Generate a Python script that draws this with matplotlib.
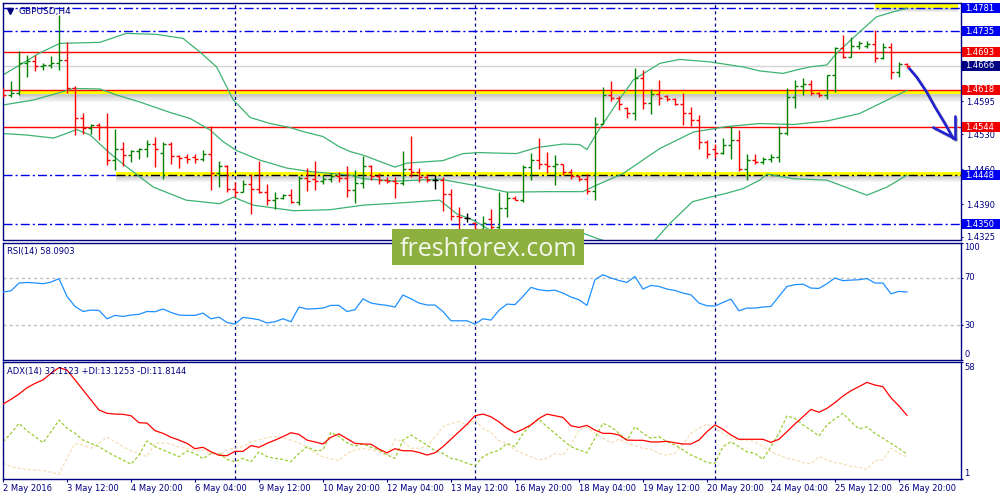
import matplotlib
matplotlib.use('Agg')
import matplotlib.pyplot as plt
import matplotlib.transforms as mtransforms
from matplotlib.patches import Rectangle
import numpy as np

plt.rcParams['font.family'] = ['DejaVu Sans']
plt.rcParams['lines.scale_dashes'] = False

# ---------------- DATA ----------------
bar_open = [1.4618, 1.4608, 1.4612, 1.4672, 1.4676, 1.4665, 1.4668, 1.4672, 1.4677, 1.4621,
            1.4563, 1.4542, 1.4549, 1.4545, 1.4479, 1.4500, 1.4488, 1.4496, 1.4500, 1.4510,
            1.4493, 1.4510, 1.4487, 1.4484, 1.4484, 1.4481, 1.4490, 1.4452, 1.4466, 1.4421,
            1.4415, 1.4430, 1.4420, 1.4414, 1.4398, 1.4403, 1.4408, 1.4395, 1.4443, 1.4440,
            1.4436, 1.4441, 1.4446, 1.4442, 1.4418, 1.4432, 1.4466, 1.4446, 1.4439, 1.4436,
            1.4433, 1.4461, 1.4455, 1.4445, 1.4439, 1.4439, 1.4411, 1.4367, 1.4362, 1.4352,
            1.4340, 1.4360, 1.4345, 1.4383, 1.4403, 1.4399, 1.4465, 1.4478, 1.4471, 1.4466,
            1.4470, 1.4455, 1.4446, 1.4440, 1.4417, 1.4551, 1.4608, 1.4601, 1.4582, 1.4572,
            1.4641, 1.4592, 1.4609, 1.4605, 1.4600, 1.4590, 1.4572, 1.4559, 1.4514, 1.4500,
            1.4493, 1.4508, 1.4518, 1.4461, 1.4479, 1.4475, 1.4480, 1.4485, 1.4532, 1.4604,
            1.4625, 1.4630, 1.4611, 1.4608, 1.4647, 1.4701, 1.4684, 1.4705, 1.4705, 1.4710,
            1.4681, 1.4704, 1.4654, 1.4669]
bar_high = [1.4621, 1.4636, 1.4696, 1.4688, 1.4688, 1.4672, 1.4686, 1.4768, 1.4714, 1.4626,
            1.4572, 1.4550, 1.4552, 1.4572, 1.4540, 1.4515, 1.4498, 1.4502, 1.4519, 1.4525,
            1.4515, 1.4515, 1.4489, 1.4491, 1.4491, 1.4498, 1.4546, 1.4476, 1.4468, 1.4434,
            1.4438, 1.4451, 1.4477, 1.4431, 1.4414, 1.4411, 1.4421, 1.4446, 1.4462, 1.4476,
            1.4448, 1.4452, 1.4454, 1.4466, 1.4458, 1.4486, 1.4469, 1.4452, 1.4444, 1.4444,
            1.4496, 1.4527, 1.4463, 1.4451, 1.4448, 1.4444, 1.4421, 1.4385, 1.4372, 1.4354,
            1.4366, 1.4380, 1.4415, 1.4414, 1.4406, 1.4468, 1.4492, 1.4522, 1.4494, 1.4489,
            1.4471, 1.4461, 1.4448, 1.4451, 1.4564, 1.4623, 1.4636, 1.4606, 1.4584, 1.4661,
            1.4658, 1.4619, 1.4638, 1.4608, 1.4601, 1.4611, 1.4584, 1.4569, 1.4519, 1.4511,
            1.4523, 1.4546, 1.4539, 1.4490, 1.4490, 1.4485, 1.4490, 1.4546, 1.4621, 1.4638,
            1.4641, 1.4638, 1.4614, 1.4648, 1.4704, 1.4728, 1.4723, 1.4715, 1.4716, 1.4737,
            1.4712, 1.4711, 1.4674, 1.4671]
bar_low = [1.4603, 1.4604, 1.4608, 1.4643, 1.4656, 1.4658, 1.4661, 1.4658, 1.4611, 1.4529,
           1.4531, 1.4530, 1.4518, 1.4469, 1.4458, 1.4466, 1.4474, 1.4480, 1.4484, 1.4464,
           1.4441, 1.4470, 1.4463, 1.4472, 1.4472, 1.4476, 1.4419, 1.4424, 1.4414, 1.4404,
           1.4414, 1.4371, 1.4412, 1.4389, 1.4381, 1.4400, 1.4393, 1.4388, 1.4416, 1.4419,
           1.4430, 1.4435, 1.4434, 1.4404, 1.4392, 1.4423, 1.4438, 1.4431, 1.4433, 1.4403,
           1.4428, 1.4444, 1.4435, 1.4434, 1.4421, 1.4376, 1.4358, 1.4338, 1.4354, 1.4334,
           1.4338, 1.4334, 1.4334, 1.4365, 1.4398, 1.4394, 1.4438, 1.4461, 1.4452, 1.4428,
           1.4448, 1.4441, 1.4436, 1.4410, 1.4399, 1.4550, 1.4596, 1.4578, 1.4563, 1.4559,
           1.4581, 1.4571, 1.4588, 1.4596, 1.4588, 1.4548, 1.4546, 1.4501, 1.4483, 1.4483,
           1.4490, 1.4480, 1.4457, 1.4438, 1.4471, 1.4470, 1.4474, 1.4474, 1.4528, 1.4582,
           1.4608, 1.4608, 1.4604, 1.4599, 1.4614, 1.4681, 1.4684, 1.4700, 1.4701, 1.4674,
           1.4680, 1.4640, 1.4644, 1.4661]
bar_close = [1.4608, 1.4612, 1.4672, 1.4676, 1.4665, 1.4668, 1.4672, 1.4677, 1.4621, 1.4563,
             1.4542, 1.4549, 1.4545, 1.4479, 1.4500, 1.4488, 1.4496, 1.4500, 1.4510, 1.4500,
             1.4510, 1.4487, 1.4483, 1.4481, 1.4481, 1.4490, 1.4452, 1.4466, 1.4421, 1.4415,
             1.4430, 1.4420, 1.4414, 1.4398, 1.4403, 1.4408, 1.4395, 1.4443, 1.4436, 1.4436,
             1.4441, 1.4446, 1.4442, 1.4418, 1.4432, 1.4466, 1.4446, 1.4439, 1.4436, 1.4433,
             1.4461, 1.4455, 1.4445, 1.4439, 1.4439, 1.4411, 1.4366, 1.4365, 1.4362, 1.4340,
             1.4353, 1.4345, 1.4383, 1.4403, 1.4399, 1.4465, 1.4478, 1.4471, 1.4466, 1.4470,
             1.4455, 1.4446, 1.4440, 1.4417, 1.4551, 1.4608, 1.4601, 1.4590, 1.4572, 1.4641,
             1.4592, 1.4609, 1.4602, 1.4600, 1.4590, 1.4572, 1.4559, 1.4514, 1.4491, 1.4493,
             1.4508, 1.4518, 1.4461, 1.4479, 1.4475, 1.4480, 1.4485, 1.4532, 1.4604, 1.4625,
             1.4630, 1.4611, 1.4608, 1.4647, 1.4701, 1.4684, 1.4705, 1.4711, 1.4710, 1.4681,
             1.4704, 1.4654, 1.4669, 1.4666]

bb_upper_x = [0, 2.1, 4.6, 7.1, 12.1, 15.4, 19.2, 22.5, 24.6, 26.7, 28.8, 30.9, 33.4, 35.9,
              37.5, 40.0, 42.0, 43.4, 45, 49, 50.5, 55, 57.5, 59.6, 61.7, 64.2, 66.7, 70, 72.1,
              73, 74.2, 76.7, 78.8, 82.1, 84.6, 88.4, 92.5, 94.6, 97.5, 99.2, 100.9, 103, 104.2,
              107.1, 109.2, 111.3, 113]
bb_upper_y = [1.4648, 1.4668, 1.4692, 1.4711, 1.4713, 1.4731, 1.4729, 1.4721, 1.4694, 1.4664,
              1.4598, 1.4563, 1.4551, 1.4543, 1.4535, 1.4525, 1.4505, 1.4495, 1.4488, 1.4464,
              1.4472, 1.4477, 1.4491, 1.4493, 1.4492, 1.4491, 1.4503, 1.4510, 1.4509, 1.4499,
              1.4531, 1.4591, 1.4638, 1.4671, 1.4679, 1.4674, 1.4664, 1.4656, 1.4651, 1.4658,
              1.4664, 1.4668, 1.4691, 1.4734, 1.4764, 1.4774, 1.4781]
bb_mid_x = [0, 3.8, 6.7, 8.8, 12.1, 14.2, 17.1, 20.9, 23.4, 25.9, 27.5, 29.2, 32.1, 35.5, 38.4,
            43.4, 45, 49.2, 54.6, 58.8, 63, 68, 72.5, 74.2, 77.5, 82.1, 86.3, 90.5, 94.6, 98.8,
            103, 107.1, 111.3, 113]
bb_mid_y = [1.4588, 1.4598, 1.4611, 1.4621, 1.4620, 1.4608, 1.4594, 1.4573, 1.4561, 1.4538,
            1.4515, 1.4497, 1.4478, 1.4462, 1.4455, 1.4448, 1.4441, 1.4436, 1.4440, 1.4428,
            1.4414, 1.4415, 1.4415, 1.4428, 1.4451, 1.4501, 1.4534, 1.4545, 1.4551, 1.4549,
            1.4556, 1.4571, 1.4604, 1.4617]
bb_lower_x = [0, 3, 6.3, 7.9, 9.2, 10.9, 13.4, 15.5, 18.8, 22.9, 27.1, 28.8, 31.3, 36.3, 40.9,
              45, 49.2, 54.6, 56.7, 58.8, 60.9, 63, 67, 71, 72.5, 74.2, 77.5, 80.5, 81.5, 83.4,
              86.2, 88.4, 90.5, 92.5, 94.6, 95.5, 98.8, 103, 108, 110.5, 113]
bb_lower_y = [1.4531, 1.4528, 1.4522, 1.4531, 1.4539, 1.4528, 1.4491, 1.4464, 1.4424, 1.4398,
              1.4391, 1.4404, 1.4388, 1.4377, 1.4379, 1.4388, 1.4392, 1.4398, 1.4371, 1.4358,
              1.4338, 1.4310, 1.4300, 1.4322, 1.4332, 1.4322, 1.4305, 1.4310, 1.4318, 1.4352,
              1.4395, 1.4404, 1.4412, 1.4421, 1.4438, 1.4450, 1.4441, 1.4438, 1.4408, 1.4424, 1.4448]

rsi = [58.0, 59.1, 65.7, 66.2, 65.8, 65.1, 66.5, 69.4, 54.3, 45.8, 41.5, 42.7, 42.4, 35.3, 38.2,
       37.3, 38.5, 39.1, 41.5, 41.3, 43.6, 40.7, 38.5, 38.2, 38.2, 40.1, 35.3, 36.7, 32.2, 30.8,
       36.5, 35.6, 34.5, 31.7, 32.8, 35.3, 32.8, 45.3, 43.6, 43.9, 44.4, 46.7, 46.7, 41.5, 43.0,
       52.3, 48.7, 47.5, 46.7, 45.3, 55.5, 52.3, 48.7, 47.0, 47.0, 41.5, 33.6, 33.6, 33.6, 30.8,
       35.3, 34.2, 42.5, 47.8, 47.3, 54.3, 62.0, 60.0, 59.1, 59.6, 57.2, 53.8, 51.5, 46.7, 68.5,
       72.8, 70.0, 67.9, 66.2, 71.3, 60.6, 63.7, 62.8, 60.6, 59.4, 57.2, 55.7, 48.7, 46.4, 46.1,
       49.2, 52.1, 42.1, 44.4, 44.4, 45.3, 45.8, 54.3, 62.8, 64.3, 64.8, 61.4, 61.1, 65.1, 70.0,
       67.7, 68.2, 68.5, 69.6, 65.7, 65.7, 56.6, 58.6, 58.09]

adx = [37.6, 39.9, 42.5, 45.6, 47.7, 49.4, 52.6, 55.4, 54.2, 49.4, 44.5, 39.6, 34.7, 33.1, 32.7,
       32.6, 31.9, 28.5, 28.3, 24.6, 23.3, 21.4, 20.0, 18.4, 15.8, 16.5, 14.3, 12.6, 12.4, 14.5,
       14.5, 17.3, 16.5, 18.4, 20.0, 21.7, 23.6, 22.8, 20.0, 19.1, 18.1, 21.4, 23.0, 20.7, 18.4,
       18.1, 18.0, 15.6, 13.8, 15.8, 14.8, 14.8, 14.0, 12.7, 13.8, 16.8, 20.4, 24.1, 27.7, 31.9,
       32.7, 31.4, 28.9, 25.8, 23.6, 25.3, 27.4, 30.6, 32.7, 31.9, 31.1, 27.0, 26.2, 27.2, 24.9,
       23.3, 23.3, 22.5, 20.0, 19.9, 19.9, 19.1, 19.1, 19.4, 18.7, 18.1, 18.1, 20.0, 24.1, 27.4,
       25.3, 22.5, 20.4, 20.4, 20.4, 20.4, 18.9, 20.4, 24.1, 27.9, 31.4, 35.0, 33.6, 35.5, 38.3,
       41.5, 44.1, 46.1, 48.2, 46.9, 46.1, 40.7, 36.7, 32.11]
plus_di = [19.2, 23.3, 28.2, 24.6, 21.7, 18.7, 24.1, 29.8, 25.8, 23.3, 20.0, 18.4, 16.8, 14.3, 12.2,
           10.3, 8.2, 12.7, 19.6, 16.8, 15.2, 13.5, 11.9, 14.7, 13.5, 10.9, 13.5, 13.5, 10.6, 9.4,
           11.1, 9.4, 14.3, 11.9, 11.1, 10.6, 9.4, 13.5, 16.8, 14.8, 15.2, 23.8, 21.7, 18.7, 17.1,
           18.1, 16.5, 15.2, 12.7, 11.1, 20.0, 22.5, 20.0, 17.6, 14.8, 13.5, 11.1, 10.3, 8.7, 7.5,
           11.9, 13.8, 15.0, 18.4, 16.8, 23.3, 27.4, 30.3, 26.5, 23.3, 20.0, 16.8, 15.2, 13.8, 20.9,
           28.2, 26.5, 23.3, 20.0, 26.5, 23.3, 20.9, 21.7, 19.2, 17.6, 15.2, 12.7, 11.1, 9.0, 8.7,
           16.8, 19.2, 16.8, 14.3, 13.5, 10.6, 16.8, 23.3, 31.8, 30.6, 27.4, 24.9, 22.0, 27.4, 30.3,
           33.1, 29.0, 25.5, 26.5, 23.3, 20.9, 18.4, 16.0, 13.13]
minus_di = [8.7, 7.0, 6.2, 5.7, 5.4, 5.1, 4.3, 3.3, 11.1, 18.4, 17.6, 16.0, 18.4, 21.4, 19.2,
            16.8, 14.8, 13.5, 11.9, 18.4, 18.7, 18.1, 16.5, 16.0, 14.8, 15.2, 13.5, 12.7, 15.2, 16.0,
            16.8, 19.2, 20.0, 21.2, 21.7, 21.2, 20.0, 18.7, 16.5, 13.5, 11.9, 10.8, 10.0, 13.5, 15.2,
            16.0, 15.2, 14.3, 12.7, 20.4, 19.2, 16.0, 16.0, 16.8, 21.7, 26.5, 28.2, 29.0, 27.4, 29.8,
            25.5, 23.9, 19.6, 18.4, 15.2, 13.5, 11.9, 10.3, 11.1, 13.5, 12.7, 17.6, 24.9, 26.2, 23.3,
            20.9, 18.7, 20.4, 18.4, 17.3, 16.0, 15.6, 13.5, 12.7, 13.5, 18.1, 23.3, 25.8, 27.9, 25.8,
            23.3, 20.9, 20.0, 20.0, 19.2, 16.8, 14.3, 12.7, 11.1, 10.3, 9.0, 8.4, 11.9, 10.3, 9.0,
            8.4, 7.1, 6.8, 5.7, 10.0, 10.3, 16.0, 13.5, 11.81]

x_tick_labels = ["2 May 2016", "3 May 12:00", "4 May 20:00", "6 May 04:00", "9 May 12:00",
                 "10 May 20:00", "12 May 04:00", "13 May 12:00", "16 May 20:00", "18 May 04:00",
                 "19 May 12:00", "20 May 20:00", "24 May 04:00", "25 May 12:00", "26 May 20:00"]
x_tick_index = [0, 8, 16, 24, 32, 40, 48, 56, 64, 72, 80, 88, 96, 104, 112]
week_separators = [29, 59, 89]

red_levels = [1.4693, 1.4618, 1.4544]
blue_levels = [1.4781, 1.4735, 1.4350]
support_level = 1.4448
last_price = 1.4666
price_ticks = [1.4595, 1.4530, 1.4460, 1.4390, 1.4325]
boxed_labels = [(1.4781, 'blue'), (1.4735, 'blue'), (1.4693, 'red'), (1.4666, 'navy'),
                (1.4618, 'red'), (1.4544, 'red'), (1.4448, 'blue'), (1.4350, 'blue')]

# ---------------- STYLE ----------------
NAVY = '#000080'
BLUE = '#0000F0'
RED = '#FF0000'
UP = '#008000'
BBC = '#3CB371'
YEL = '#FFFF00'
box_colors = {'blue': '#0000F0', 'red': '#F00000', 'navy': '#000080'}
DASHDOT = (0, (6.5, 2.2, 1.5, 2.2))

W, H = 1000, 500
fig = plt.figure(figsize=(10, 5), dpi=100)
fig.patch.set_facecolor('white')

def frac(l, t, r, b):
    return [l / W, 1 - b / H, (r - l) / W, (b - t) / H]

L_PX, R_PX = 2.7, 960.5
ax1 = fig.add_axes(frac(L_PX, 2.7, R_PX, 239.5))
ax2 = fig.add_axes(frac(L_PX, 242.7, R_PX, 360.3))
ax3 = fig.add_axes(frac(L_PX, 362.3, R_PX, 479.0))

XMIN, XMAX = -0.04, 119.7
for ax in (ax1, ax2, ax3):
    ax.set_xlim(XMIN, XMAX)
    for s in ax.spines.values():
        s.set_color(NAVY)
        s.set_linewidth(1.0)
    ax.set_facecolor('white')
    for v in week_separators:
        ax.axvline(v, color=NAVY, lw=0.9, ls=(0, (2.2, 2.2)), zorder=1.5)

# ---------------- MAIN PANEL ----------------
ax1.set_ylim(1.43195, 1.47922)
xs = np.arange(len(bar_open))
o = np.array(bar_open); h = np.array(bar_high); l = np.array(bar_low); c = np.array(bar_close)
cols = [UP if cc > oo else (RED if cc < oo else 'black') for oo, cc in zip(o, c)]

# yellow zones with shadows
def zone(ax, x0, x1, top, bottom, shadow):
    ax.fill_between([x0, x1], bottom, top, color=YEL, lw=0, zorder=1)
    n = 6
    step = shadow / n
    for k in range(n):
        ax.fill_between([x0, x1], bottom - k * step, bottom - (k + 1) * step,
                        color='#606060', alpha=0.32 * (1 - k / n), lw=0, zorder=1)

zone(ax1, 2.0, XMAX, 1.4618, 1.4609, 0.0016)
zone(ax1, 14.1, XMAX, 1.4455, 1.4446, 0.0012)
zone(ax1, 109.0, 119.4, 1.47922, 1.4781, 0.0008)

ax1.axhline(last_price, color='#D3D3D3', lw=1.0, zorder=1.2)
for lv in red_levels:
    ax1.axhline(lv, color=RED, lw=1.0, zorder=1.6)
for lv in blue_levels:
    ax1.axhline(lv, color=BLUE, lw=1.0, ls=DASHDOT, zorder=1.6)
ax1.plot([XMIN, 14.1], [support_level, support_level], color=BLUE, lw=1.0, ls=DASHDOT, zorder=1.6)
ax1.plot([14.1, XMAX], [support_level, support_level], color='black', lw=1.0, ls=DASHDOT, zorder=1.6)

# Bollinger bands
ax1.plot(bb_upper_x, bb_upper_y, color=BBC, lw=0.9, zorder=2.5)
ax1.plot(bb_mid_x, bb_mid_y, color=BBC, lw=0.9, zorder=2.5)
ax1.plot(bb_lower_x, bb_lower_y, color=BBC, lw=0.9, zorder=2.5)

# OHLC bars
ax1.vlines(xs, l, h, colors=cols, lw=1.0, zorder=3)
ax1.hlines(o, xs - 0.33, xs, colors=cols, lw=1.0, zorder=3)
ax1.hlines(c, xs, xs + 0.33, colors=cols, lw=1.0, zorder=3)

# right axis
ax1.yaxis.tick_right()
ax1.set_yticks(price_ticks)
ax1.set_yticklabels([f'{v:.4f}' for v in price_ticks])
ax1.tick_params(axis='y', length=1.6, width=0.8, color=NAVY, labelsize=6, labelcolor=NAVY, pad=2.2)
ax1.set_xticks([])

bt1 = mtransforms.blended_transform_factory(ax1.transAxes, ax1.transData)
axw_px = R_PX - L_PX
px_per_price = 236.8 / (1.47922 - 1.43195)
box_h = 10.0 / px_per_price
for p, cname in boxed_labels:
    ax1.add_patch(Rectangle((1 + 1.2 / axw_px, p - box_h / 2), (1000 - R_PX) / axw_px, box_h,
                            transform=bt1, facecolor=box_colors[cname], edgecolor='none',
                            clip_on=False, zorder=10))
    ax1.text(1 + 4.8 / axw_px, p, f'{p:.4f}', transform=bt1, ha='left', va='center',
             fontsize=6, color='white', zorder=11, clip_on=False)

# title
ax1.plot([6.8 / axw_px], [1 - 8.0 / 236.8], marker='v', ms=3.8, color=NAVY,
         transform=ax1.transAxes, clip_on=False, zorder=12)
ax1.text(15.5 / axw_px, 1 - 8.6 / 236.8, 'GBPUSD,H4', transform=ax1.transAxes, ha='left',
         va='center', fontsize=6.5, color=NAVY, zorder=12)

# hand-drawn arrow
arrow_x = [113.29, 114.2, 115.46, 116.5, 117.75, 118.79, 119.0]
arrow_y = [1.4661, 1.4644, 1.4614, 1.4584, 1.4551, 1.4521, 1.4521]
barb_l_x = [116.3, 119.0]
barb_l_y = [1.4543, 1.4521]
barb_r_x = [119.0, 119.0]
barb_r_y = [1.4566, 1.4521]
sh = mtransforms.offset_copy(ax1.transData, fig=fig, x=1.5, y=-1.5, units='dots')
for xx, yy in ((arrow_x, arrow_y), (barb_l_x, barb_l_y), (barb_r_x, barb_r_y)):
    ax1.plot(xx, yy, color='#9090A0', lw=2.0, alpha=0.6, transform=sh, clip_on=False,
             zorder=13, solid_capstyle='round')
    ax1.plot(xx, yy, color='#2222CC', lw=1.9, clip_on=False, zorder=14, solid_capstyle='round')

# ---------------- RSI ----------------
ax2.set_ylim(0, 100)
ax2.axhline(70, color='#C0C0C0', lw=1.0, ls=(0, (2.2, 2.2)), zorder=1)
ax2.axhline(30, color='#C0C0C0', lw=1.0, ls=(0, (2.2, 2.2)), zorder=1)
ax2.plot(xs, rsi, color='#1E90FF', lw=0.9, zorder=3)
ax2.set_xticks([])
ax2.yaxis.tick_right()
ax2.set_yticks([100, 70, 30, 0])
ax2.set_yticklabels([])
ax2.tick_params(axis='y', length=1.6, width=0.8, color=NAVY)
bt2 = mtransforms.blended_transform_factory(ax2.transAxes, ax2.transData)
xr = 1 + 3.8 / axw_px
ax2.text(xr, 99.5, '100', transform=bt2, ha='left', va='top', fontsize=6, color=NAVY, clip_on=False)
ax2.text(xr, 70, '70', transform=bt2, ha='left', va='center', fontsize=6, color=NAVY, clip_on=False)
ax2.text(xr, 30, '30', transform=bt2, ha='left', va='center', fontsize=6, color=NAVY, clip_on=False)
ax2.text(xr, 1.5, '0', transform=bt2, ha='left', va='bottom', fontsize=6, color=NAVY, clip_on=False)
ax2.text(4.3 / axw_px, 1 - 9.0 / 117.6, 'RSI(14) 58.0903', transform=ax2.transAxes, ha='left',
         va='center', fontsize=6, color=NAVY, zorder=12)

# ---------------- ADX ----------------
ax3.set_ylim(1, 58)
ax3.plot(xs, minus_di, color='#F5DEB3', lw=0.9, ls=(0, (2.2, 1.5)), zorder=2)
ax3.plot(xs, plus_di, color='#9ACD32', lw=0.9, ls=(0, (2.2, 1.5)), zorder=2.2)
ax3.plot(xs, adx, color='#FF0000', lw=0.9, zorder=3)
ax3.yaxis.tick_right()
ax3.set_yticks([58, 1])
ax3.set_yticklabels([])
ax3.tick_params(axis='y', length=1.6, width=0.8, color=NAVY)
bt3 = mtransforms.blended_transform_factory(ax3.transAxes, ax3.transData)
ax3.text(xr, 57.6, '58', transform=bt3, ha='left', va='top', fontsize=6, color=NAVY, clip_on=False)
ax3.text(xr, 1.6, '1', transform=bt3, ha='left', va='bottom', fontsize=6, color=NAVY, clip_on=False)
ax3.text(4.3 / axw_px, 1 - 9.4 / 116.7, 'ADX(14) 32.1123 +DI:13.1253 -DI:11.8144',
         transform=ax3.transAxes, ha='left', va='center', fontsize=6, color=NAVY, zorder=12)

ax3.set_xticks(x_tick_index)
ax3.set_xticklabels(x_tick_labels, ha='left', fontsize=6, color=NAVY)
ax3.tick_params(axis='x', length=2.2, width=0.8, color=NAVY, pad=1.6, labelcolor=NAVY)

# ---------------- watermark ----------------
fig.patches.append(Rectangle((392 / W, 1 - 264.7 / H), 192 / W, 36 / H, transform=fig.transFigure,
                             facecolor='#8DB040', edgecolor='none', zorder=20))
fig.text(488.5 / W, 1 - 256 / H, 'freshforex.com', ha='center', va='baseline',
         fontsize=18, color='#F4F8EC', family=['Open Sans', 'DejaVu Sans'], zorder=21)

fig.savefig('out.png', dpi=100)
